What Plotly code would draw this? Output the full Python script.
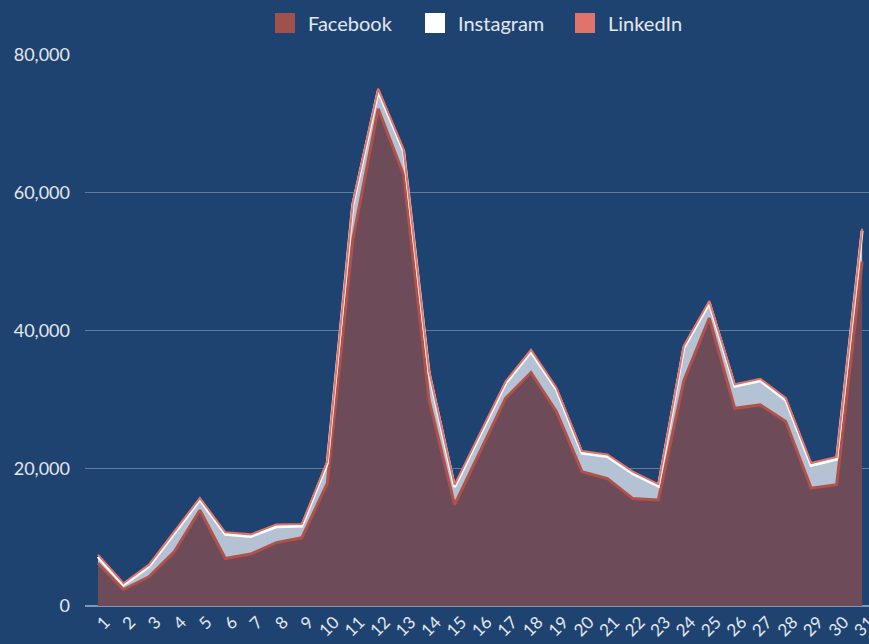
import plotly.graph_objects as go

days = list(range(1, 32))
facebook = [6200, 2400, 4250, 7900, 13900, 6900, 7550, 9200, 9900, 17800,
            53100, 72200, 62600, 29900, 14700, 22400, 30150, 33900, 28200, 19500,
            18500, 15600, 15400, 32700, 41800, 28700, 29200, 26800, 17100, 17600, 50000]
instagram = [950, 650, 1450, 2700, 1500, 3500, 2550, 2300, 1700, 2900,
             5100, 2600, 3400, 3900, 2600, 2400, 2150, 3000, 3200, 2700,
             3200, 3600, 2000, 4800, 2200, 3200, 3500, 3100, 3300, 3700, 4500]
linkedin = [300, 250, 300, 300, 300, 300, 300, 350, 300, 300,
            300, 300, 300, 300, 300, 300, 300, 300, 300, 300,
            300, 300, 300, 300, 300, 300, 300, 300, 350, 350, 300]

bg = "#1f4371"
fig = go.Figure()
fig.add_trace(go.Scatter(x=days, y=facebook, name="Facebook", stackgroup="one",
                         mode="lines", line=dict(color="#b0524a", width=3),
                         fillcolor="#6e4b58", showlegend=False))
fig.add_trace(go.Scatter(x=days, y=instagram, name="Instagram", stackgroup="one",
                         mode="lines", line=dict(color="#ffffff", width=3),
                         fillcolor="#b4c2d4", showlegend=False))
fig.add_trace(go.Scatter(x=days, y=linkedin, name="LinkedIn", stackgroup="one",
                         mode="lines", line=dict(color="#e0736a", width=2),
                         fillcolor="#e0736a", showlegend=False))

for name, col in [("Facebook", "#9e524b"), ("Instagram", "#ffffff"), ("LinkedIn", "#e0736a")]:
    fig.add_trace(go.Scatter(x=[None], y=[None], name=name, mode="markers",
                             marker=dict(symbol="square", size=16, color=col,
                                         line=dict(color=col, width=4)),
                             showlegend=True))

fig.update_layout(
    width=869, height=644,
    paper_bgcolor=bg, plot_bgcolor=bg,
    margin=dict(l=85, r=0, t=55, b=38, autoexpand=False),
    font=dict(family="Lato, sans-serif", color="#e3e7ee", size=17),
    legend=dict(orientation="h", x=262 / 869, xanchor="left", xref="container",
                y=1 - 23 / 644, yanchor="middle", yref="container",
                font=dict(size=20), itemwidth=36, traceorder="normal",
                entrywidth=99, bgcolor="rgba(0,0,0,0)"),
    showlegend=True,
)
fig.update_xaxes(range=[0.49, 31.27], tickvals=days, ticktext=[str(d) for d in days],
                 tickangle=-45, showgrid=False, zeroline=False, showline=False,
                 tickfont=dict(size=17), ticks="", automargin=False,
                 ticklabelshift=7, ticklabelstandoff=2, ticklabeloverflow="allow")
fig.update_yaxes(range=[0, 80000], tickvals=[0, 20000, 40000, 60000, 80000],
                 tickformat=",", showgrid=True, gridcolor="rgba(255,255,255,0.3)",
                 gridwidth=1, zeroline=True, zerolinecolor="rgba(255,255,255,0.45)",
                 zerolinewidth=2, showline=False, ticklabelstandoff=14,
                 tickfont=dict(size=18), automargin=False)

fig.write_html("out.html", config={"displayModeBar": False},
               post_script="document.body.style.margin='0';document.body.style.background='%s';" % bg)
